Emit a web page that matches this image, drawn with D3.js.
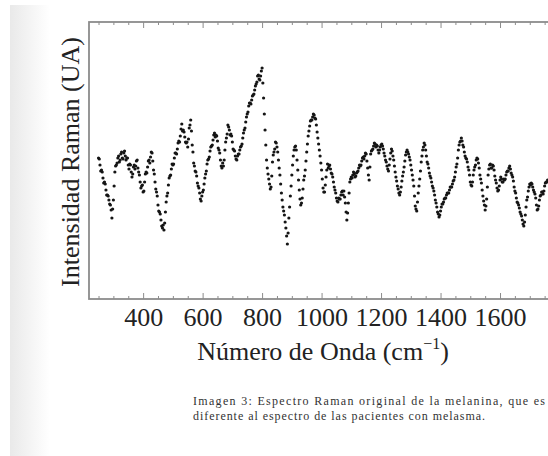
<!DOCTYPE html>
<html>
<head>
<meta charset="utf-8">
<script src="https://cdn.jsdelivr.net/npm/d3@7/dist/d3.min.js"></script>
<style>
  html, body { margin: 0; padding: 0; background: #fff; overflow: hidden; }
  svg { display: block; }
</style>
</head>
<body>
<svg id="chart" width="548" height="456"></svg>
<script>
// ---- Data (Raman spectrum of melanin, arbitrary units) ----
const waveStart = 250;      // cm^-1, first sample
const waveStep = 2.5;       // cm^-1, sampling step
const intensity = [
141,140,134,128,129,127,121,116,117,115,109,104,104,103,99,95,94,89,81,90,
99,113,127,133,134,136,141,143,137,139,145,147,141,140,146,148,143,139,141,141,
134,130,135,134,127,122,125,132,134,130,133,138,139,131,127,124,117,111,113,114,
107,108,117,125,127,126,132,138,139,136,142,147,146,138,129,125,117,110,107,103,
94,88,87,85,79,73,71,74,69,76,87,97,103,106,114,121,123,124,130,135,
134,135,141,146,146,145,150,156,158,157,163,170,175,168,169,167,162,157,156,157,
152,160,171,174,179,168,154,147,136,133,128,127,123,116,113,111,106,100,98,103,
107,109,115,121,125,128,135,139,140,142,148,152,153,154,159,164,166,162,164,163,
158,151,149,146,139,133,131,136,133,139,149,157,161,165,174,172,169,164,165,163,
157,150,149,148,143,140,139,143,145,145,149,152,153,155,161,166,169,171,177,182,
185,187,193,196,196,195,199,203,204,205,209,213,215,217,223,224,220,219,223,228,
231,216,201,185,169,154,139,131,125,120,115,110,112,123,137,144,147,150,157,156,
152,147,139,131,124,115,106,99,92,88,84,77,71,63,55,66,81,92,103,113,
124,134,143,149,152,153,149,139,129,119,109,100,94,96,101,110,119,123,129,138,
147,155,163,168,173,178,179,179,182,185,184,181,180,174,167,161,155,149,143,136,
129,120,111,107,107,114,122,129,135,131,133,134,130,126,125,122,117,112,109,106,
101,98,97,101,100,100,104,107,108,104,108,102,96,87,79,86,96,106,117,120,
122,121,124,127,125,122,123,126,127,128,131,134,133,134,138,141,142,140,143,146,
145,138,131,124,119,132,145,148,149,150,153,156,155,152,154,153,149,146,149,152,
154,155,153,150,146,143,139,137,133,130,128,134,140,146,150,148,143,139,133,127,
122,118,113,110,106,104,107,112,118,123,127,132,138,144,147,149,147,145,142,139,
134,129,124,119,113,103,93,90,88,97,106,113,120,128,137,143,149,152,156,154,
149,143,137,135,131,126,123,121,117,113,111,108,104,99,96,92,87,85,82,84,
88,92,95,95,97,100,101,101,104,106,106,106,109,112,112,112,115,118,119,122,
127,132,135,141,149,154,157,158,161,158,154,152,147,143,141,140,137,132,129,124,
117,114,113,117,124,129,132,134,139,141,140,136,131,124,120,116,109,103,98,94,
89,93,100,112,124,130,134,135,131,131,134,133,129,123,119,116,111,108,109,113,
119,122,120,117,117,120,119,120,124,127,128,128,131,133,130,126,124,122,118,112,
108,106,101,97,96,94,91,87,85,83,79,75,73,77,84,92,99,102,108,112,
115,114,116,115,112,109,107,105,101,94,89,90,93,99,103,104,107,107,105,108,
113,116,117,117,119
];
const wavenumbers = intensity.map((_, i) => waveStart + i * waveStep);
const majorTicks = [400, 600, 800, 1000, 1200, 1400, 1600];
const xTitle = "Número de Onda (cm";
const xTitleSup = "−1";
const yTitle = "Intensidad Raman (UA)";
const captionLines = [
  "Imagen 3: Espectro Raman original de la melanina, que es",
  "diferente al espectro de las pacientes con melasma."
];

// ---- Layout ----
const svg = d3.select("#chart");
const plot = { left: 89, top: 22, bottom: 299, right: 559.5 };
const serif = "'Liberation Serif', 'Times New Roman', serif";

const x = d3.scaleLinear().domain([218, 1800]).range([plot.left, plot.right]);
const y = d3.scaleLinear().domain([0, 277]).range([plot.bottom, plot.top]);

// left page shadow band
const defs = svg.append("defs");
const grad = defs.append("linearGradient").attr("id", "band").attr("x1", "0").attr("x2", "1");
grad.append("stop").attr("offset", "0").attr("stop-color", "#e9e9e9");
grad.append("stop").attr("offset", "1").attr("stop-color", "#ffffff");
svg.append("rect").attr("x", 10).attr("y", 5).attr("width", 40).attr("height", 451)
  .attr("fill", "url(#band)");

// frame
const frameColor = "#8c8c8c";
svg.append("rect")
  .attr("x", plot.left).attr("y", plot.top)
  .attr("width", plot.right - plot.left).attr("height", plot.bottom - plot.top)
  .attr("fill", "none").attr("stroke", frameColor).attr("stroke-width", 1.8);

// inward ticks on bottom and top
const minorTicks = d3.range(250, 1800, 50).filter(v => !majorTicks.includes(v));
function tickAxis(g, gen, vals, size) {
  g.call(gen.tickValues(vals).tickSize(size).tickFormat(""));
  g.select(".domain").remove();
  g.selectAll(".tick line").attr("stroke", frameColor).attr("stroke-width", 1);
}
const allMajor = majorTicks.concat([1800]);
svg.append("g").attr("transform", `translate(0,${plot.bottom})`)
  .call(g => tickAxis(g, d3.axisTop(x), allMajor, 6));
svg.append("g").attr("transform", `translate(0,${plot.bottom})`)
  .call(g => tickAxis(g, d3.axisTop(x), minorTicks, 3));
svg.append("g").attr("transform", `translate(0,${plot.top})`)
  .call(g => tickAxis(g, d3.axisBottom(x), allMajor, 6));
svg.append("g").attr("transform", `translate(0,${plot.top})`)
  .call(g => tickAxis(g, d3.axisBottom(x), minorTicks, 3));

// tick labels
const labelAxis = svg.append("g").attr("transform", `translate(0,${plot.bottom})`)
  .call(d3.axisBottom(x).tickValues(majorTicks).tickSize(0).tickPadding(0).tickFormat(d3.format("d")));
labelAxis.select(".domain").remove();
labelAxis.selectAll("text")
  .attr("font-family", serif)
  .attr("font-size", 26).attr("fill", "#222")
  .attr("dy", null).attr("y", 27);

// x title
const xt = svg.append("text")
  .attr("x", 323).attr("y", 360).attr("text-anchor", "middle")
  .attr("font-family", serif)
  .attr("font-size", 26).attr("fill", "#222");
xt.append("tspan").text(xTitle);
xt.append("tspan").attr("font-size", 16).attr("dy", -11).text(xTitleSup);
xt.append("tspan").attr("dy", 11).text(")");

// y title
svg.append("text")
  .attr("transform", "translate(79,162) rotate(-90)")
  .attr("text-anchor", "middle")
  .attr("font-family", serif)
  .attr("font-size", 26).attr("fill", "#222")
  .text(yTitle);

// data dots
const pts = wavenumbers.map((w, i) => ({ w, v: intensity[i] }));
svg.append("g").selectAll("circle").data(pts).join("circle")
  .attr("cx", d => x(d.w)).attr("cy", d => y(d.v))
  .attr("r", 1.6).attr("fill", "#151515");

// caption
const cap = svg.append("g")
  .attr("font-family", serif)
  .attr("font-size", 12).attr("fill", "#333");
cap.append("text").attr("x", 193).attr("y", 405)
  .attr("textLength", 352).attr("lengthAdjust", "spacing").text(captionLines[0]);
cap.append("text").attr("x", 193).attr("y", 420)
  .attr("textLength", 292).attr("lengthAdjust", "spacing").text(captionLines[1]);
</script>
</body>
</html>
